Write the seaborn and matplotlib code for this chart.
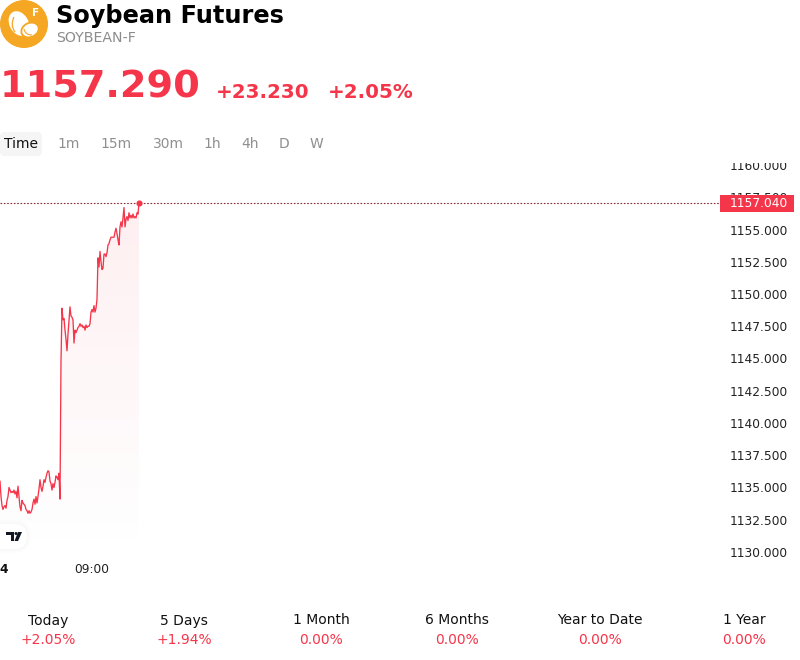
import numpy as np
import pandas as pd
import matplotlib
matplotlib.use("Agg")
import matplotlib.pyplot as plt
from matplotlib.patches import Circle, Ellipse, FancyBboxPatch, Rectangle, Polygon, PathPatch
from matplotlib.path import Path
from matplotlib.transforms import Bbox, TransformedBbox
import seaborn as sns

prices = [
    1135.5, 1134.3, 1133.6, 1133.3, 1133.5, 1133.6, 1133.4, 1134.0, 1134.3, 1135.0,
    1134.8, 1134.6, 1134.7, 1134.6, 1134.8, 1134.5, 1134.7, 1134.2, 1135.1, 1134.3,
    1133.5, 1133.2, 1134.0, 1133.8, 1133.7, 1133.6, 1133.3, 1133.2, 1133.0, 1133.2,
    1133.0, 1133.1, 1133.3, 1133.8, 1134.1, 1133.7, 1134.3, 1133.8, 1134.3, 1134.9,
    1135.6, 1135.0, 1134.7, 1135.1, 1135.6, 1135.4, 1135.8, 1136.1, 1136.3, 1136.2,
    1135.5, 1135.3, 1134.8, 1135.3, 1135.0, 1135.4, 1135.9, 1135.8, 1135.6, 1136.1,
    1134.1, 1144.8, 1148.9, 1148.0, 1148.1, 1147.2, 1146.5, 1145.6, 1146.9, 1147.9,
    1149.0, 1148.3, 1148.2, 1148.0, 1146.2, 1147.2, 1147.0, 1147.2, 1147.4, 1147.5,
    1147.7, 1147.5, 1147.6, 1147.4, 1147.5, 1147.2, 1147.6, 1147.4, 1147.5, 1147.5,
    1147.7, 1148.6, 1148.8, 1148.6, 1149.1, 1148.6, 1148.9, 1149.6, 1152.8, 1152.1,
    1153.3, 1152.5, 1151.9, 1152.0, 1153.1, 1153.1, 1152.9, 1153.2, 1153.8, 1153.9,
    1154.2, 1154.4, 1154.4, 1154.4, 1154.4, 1154.8, 1155.1, 1154.7, 1154.2, 1153.8,
    1155.2, 1155.6, 1155.2, 1155.9, 1156.7, 1155.2, 1155.8, 1156.0, 1155.7, 1156.3,
    1155.9, 1156.1, 1155.9, 1156.2, 1155.9, 1156.0, 1155.9, 1156.3, 1156.2, 1157.04,
]
last_price = 1157.04
price_ticks = [1130, 1132.5, 1135, 1137.5, 1140, 1142.5, 1145, 1147.5, 1150, 1152.5, 1155, 1157.5, 1160]
time_positions = [3.5, 91.5]
time_labels = ["4", "09:00"]
intervals = ["Time", "1m", "15m", "30m", "1h", "4h", "D", "W"]
periods = ["Today", "5 Days", "1 Month", "6 Months", "Year to Date", "1 Year"]
period_changes = ["+2.05%", "+1.94%", "0.00%", "0.00%", "0.00%", "0.00%"]

RED = "#F5364A"
W, H = 800, 660
PLOT_TOP, PLOT_BOTTOM = 161, 557
LABEL_TOP, LABEL_BOTTOM = 163, 556.5

sns.set_theme(style="white")
plt.rcParams["font.family"] = ["DejaVu Sans"]
fig = plt.figure(figsize=(W / 100, H / 100), dpi=100, facecolor="white")

# Price panel: one x unit per sample, full figure width
ax = fig.add_axes([0, 1 - PLOT_BOTTOM / H, 1, (PLOT_BOTTOM - PLOT_TOP) / H])
frame = pd.DataFrame({"step": np.arange(len(prices)), "price": prices})
sns.lineplot(data=frame, x="step", y="price", ax=ax, color=RED, lw=0.95, errorbar=None, zorder=4)
ax.set_xlim(0, W)
ax.set_ylim(1130 - 5 * 2.5 / 32.2, 1160 + 4 * 2.5 / 32.2)
ax.set_xlabel("")
ax.set_ylabel("")
sns.despine(ax=ax, left=True, bottom=True, right=True, top=True)

# Area under the line, fading out towards the bottom
band = ax.fill_between(frame["step"], frame["price"], ax.get_ylim()[0], color="none", lw=0)
ramp = np.zeros((256, 1, 4))
ramp[..., :3] = matplotlib.colors.to_rgb(RED)
ramp[..., 3] = np.linspace(0.0, 0.08, 256)[:, None]
img = ax.imshow(ramp, origin="lower", aspect="auto", zorder=2,
                extent=[0, len(prices) - 1, ax.get_ylim()[0], last_price])
img.set_clip_path(Path(band.get_paths()[0].vertices), ax.transData)
ax.set_xlim(0, W)

# Last-price marker and guide line
ax.plot([0, 720], [last_price, last_price], color="#8a2a36", lw=0.8, ls=(0, (1.5, 1.5)), zorder=3)
ax.plot([len(prices) - 1], [last_price], "o", color=RED, ms=3.4, zorder=5)

# Axis labels, trimmed to the strip the scale occupies
ax.set_yticks(price_ticks)
ax.set_yticklabels([f"{p:.3f}" for p in price_ticks])
ax.yaxis.tick_right()
ax.tick_params(axis="y", length=0, direction="in", pad=-50.4, labelsize=8.8, labelcolor="#222222")
label_clip = TransformedBbox(Bbox([[0, 1 - LABEL_BOTTOM / H], [1, 1 - LABEL_TOP / H]]), fig.transFigure)
for lab in ax.get_yticklabels():
    lab.set_ha("left")
    lab.set_clip_box(label_clip)
    lab.set_clip_on(True)
ax.set_xticks(time_positions)
ax.set_xticklabels(time_labels)
ax.tick_params(axis="x", length=0, pad=4.5, labelsize=8.8, labelcolor="#222222")
ax.get_xticklabels()[0].set_fontweight("bold")
ax.get_xticklabels()[0].set_color("#111111")

# Overlay in pixel coordinates for the page furniture
ov = fig.add_axes([0, 0, 1, 1], zorder=10)
ov.set_xlim(0, W)
ov.set_ylim(H, 0)
ov.axis("off")
ov.patch.set_alpha(0)

# Logo
ov.add_patch(Circle((24, 24), 24, fc="#F5A623", ec="none"))
ov.add_patch(Ellipse((19, 23.5), 19, 26, angle=-28, fc="white", ec="none"))
ov.add_patch(PathPatch(Path([(14, 17), (10, 25), (15, 32)], [Path.MOVETO, Path.CURVE3, Path.CURVE3]),
                       fc="none", ec="#F5A623", lw=0.9))
ov.add_patch(Ellipse((30, 30), 18, 14, angle=-25, fc="white", ec="#F5A623", lw=1.3))
ov.add_patch(PathPatch(Path([(24, 29), (25, 35), (32, 35)], [Path.MOVETO, Path.CURVE3, Path.CURVE3]),
                       fc="none", ec="#F5A623", lw=0.8))
ov.text(36, 13, "F", color="white", fontsize=7.5, fontweight="bold", ha="center", va="center")

# Header
ov.text(56, 16, "Soybean Futures", fontsize=17.3, fontweight="bold", color="black", va="center")
ov.text(56, 38, "SOYBEAN-F", fontsize=10.2, color="#8c8c8c", va="center")
ov.text(0, 87, "1157.290", fontsize=27.5, fontweight="bold", color=RED, va="center")
ov.text(216, 92.5, "+23.230", fontsize=14.3, fontweight="bold", color=RED, va="center")
ov.text(328, 92.5, "+2.05%", fontsize=14.3, fontweight="bold", color=RED, va="center")

# Interval selector
ov.add_patch(FancyBboxPatch((2, 134), 38, 20, boxstyle="round,pad=0,rounding_size=3",
                            fc="#f5f5f5", ec="#f5f5f5", lw=3))
interval_x = [21, 69, 116, 168, 212, 250, 284, 316]
for name, x in zip(intervals, interval_x):
    ov.text(x, 144.5, name, fontsize=10, ha="center", va="center",
            color="#111111" if name == "Time" else "#8f8f8f")

# Last-price tag
ov.add_patch(Rectangle((720, 195), 74, 17, fc=RED, ec="none"))
ov.text(758.5, 203.5, f"{last_price:.3f}", fontsize=8.8, color="white", ha="center", va="center")

# Small badge with the chart library mark
for grow, alpha in [(4, 0.006), (2.5, 0.008), (1, 0.01)]:
    ov.add_patch(FancyBboxPatch((-14, 524 - grow), 41 + grow, 25 + 2 * grow,
                                boxstyle=f"round,pad=0,rounding_size={12.5 + grow}",
                                fc="black", ec="none", alpha=alpha))
ov.add_patch(FancyBboxPatch((-14, 524), 41, 25, boxstyle="round,pad=0,rounding_size=12.5",
                            fc="white", ec="none"))
ov.add_patch(Polygon([(6, 532), (14, 532), (14, 541), (11, 541), (11, 535), (6, 535)], fc="#131722", ec="none"))
ov.add_patch(Circle((16, 533.5), 1.5, fc="#131722", ec="none"))
ov.add_patch(Polygon([(18, 532), (22, 532), (18, 541), (14.5, 541)], fc="#131722", ec="none"))

# Performance strip
period_x = [48, 184, 321, 457, 600, 744]
for name, change, x in zip(periods, period_changes, period_x):
    ov.text(x, 620.5, name, fontsize=10, color="#111111", ha="center", va="center")
    ov.text(x, 640.5, change, fontsize=10, color=RED, ha="center", va="center")

fig.savefig("out.png", dpi=100)
